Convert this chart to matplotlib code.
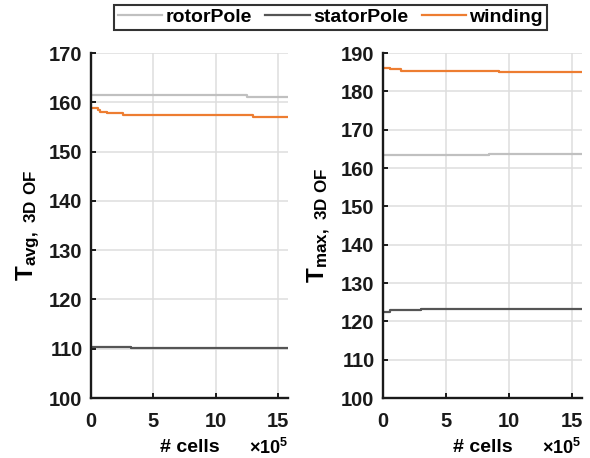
"""
Mesh convergence of average and max temperature (3D OF) for rotor pole,
stator pole and winding.
"""

import matplotlib
matplotlib.use("Agg")
import matplotlib.pyplot as plt

plt.rcParams["font.family"] = ["Liberation Sans", "DejaVu Sans"]
plt.rcParams["font.weight"] = "bold"
plt.rcParams["mathtext.default"] = "regular"

# number of cells, in units of 1e5
cells = [0.2, 0.6, 0.7, 1.3, 1.45, 2.6, 3.0, 3.25, 8.4, 9.2, 12.5, 13.0, 15.8]

# T_avg, 3D OF
rotor_avg = [161.4, 161.4, 161.4, 161.4, 161.4, 161.4, 161.4, 161.4, 161.4, 161.4, 161.0, 161.0, 161.0]
stator_avg = [110.4, 110.4, 110.4, 110.4, 110.4, 110.4, 110.4, 110.1, 110.1, 110.1, 110.1, 110.1, 110.1]
winding_avg = [158.9, 158.5, 158.1, 157.8, 157.8, 157.4, 157.4, 157.4, 157.4, 157.4, 157.4, 157.1, 157.1]

# T_max, 3D OF
rotor_max = [163.3, 163.3, 163.3, 163.3, 163.3, 163.3, 163.3, 163.3, 163.7, 163.7, 163.7, 163.7, 163.7]
stator_max = [122.5, 122.9, 122.9, 122.9, 122.9, 122.9, 123.3, 123.3, 123.3, 123.3, 123.3, 123.3, 123.3]
winding_max = [186.2, 185.8, 185.8, 185.8, 185.3, 185.3, 185.3, 185.3, 185.3, 185.0, 185.0, 185.0, 185.0]

series_names = ["rotorPole", "statorPole", "winding"]
colors = ["#c0c0c0", "#555555", "#ED7D31"]

x_ticks = [0, 5, 10, 15]
avg_ticks = [100, 110, 120, 130, 140, 150, 160, 170]
max_ticks = [100, 110, 120, 130, 140, 150, 160, 170, 180, 190]

fig = plt.figure(figsize=(5.9, 4.58), dpi=100)
ax1 = fig.add_axes([0.154, 0.131, 0.334, 0.753])
ax2 = fig.add_axes([0.649, 0.131, 0.337, 0.753])

panels = [
    (ax1, [rotor_avg, stator_avg, winding_avg], avg_ticks, r"T$_{avg,\ 3D\ OF}$"),
    (ax2, [rotor_max, stator_max, winding_max], max_ticks, r"T$_{max,\ 3D\ OF}$"),
]

for ax, data, yticks, ylabel in panels:
    for vals, name, c in zip(data, series_names, colors):
        ax.plot(cells, vals, drawstyle="steps-post", color=c, lw=1.6, label=name)

    ax.set_xlim(0, 15.8)
    ax.set_ylim(yticks[0], yticks[-1])
    ax.set_xticks(x_ticks)
    ax.set_yticks(yticks)
    ax.grid(True, color="#dedede", lw=1.1)
    ax.set_axisbelow(True)

    for side in ["top", "right"]:
        ax.spines[side].set_visible(False)
    for side in ["left", "bottom"]:
        ax.spines[side].set_linewidth(1.7)
        ax.spines[side].set_color("#1a1a1a")

    ax.tick_params(direction="in", length=3.5, width=1.4, labelsize=14.5, colors="#1a1a1a")
    ax.tick_params(axis="x", pad=10)
    ax.tick_params(axis="y", pad=6)

    ax.set_xlabel("# cells", fontsize=14, fontweight="bold", labelpad=6)
    ax.set_ylabel(ylabel, fontsize=17.5, fontweight="bold")
    ax.yaxis.set_label_coords(-0.25, 0.5)
    ax.text(1.0, -0.145, r"$\times10^5$", transform=ax.transAxes, ha="right", va="center",
            fontsize=13, fontweight="bold")

handles, labels = ax1.get_legend_handles_labels()
leg = fig.legend(handles, labels, loc="center", bbox_to_anchor=(0.56, 0.962), ncol=3,
                 fontsize=14, frameon=True, fancybox=False, edgecolor="black",
                 handlelength=2.3, handletextpad=0.15, columnspacing=0.7,
                 borderpad=0.2, borderaxespad=0)
leg.get_frame().set_linewidth(1.5)

fig.savefig("out.png", dpi=100, facecolor="white")
